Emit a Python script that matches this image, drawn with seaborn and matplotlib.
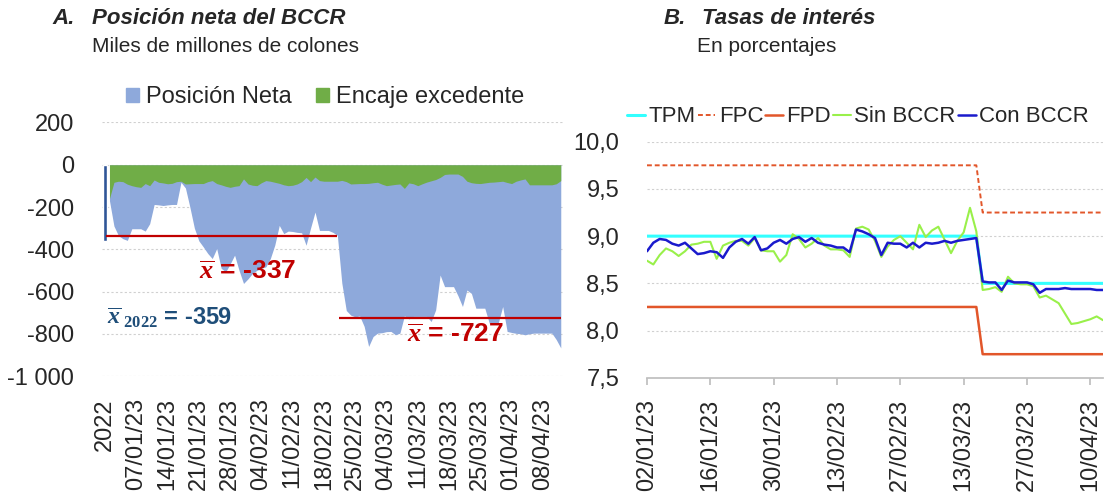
import numpy as np
import pandas as pd
import matplotlib
matplotlib.use("Agg")
import matplotlib.pyplot as plt
import seaborn as sns
from matplotlib.patches import Patch

# =====================================================
# Data - panel A (miles de millones de colones)
# =====================================================

promedio_2022 = -359
fechas_a = pd.date_range("2023-01-01", "2023-04-12", freq="D")

posicion_neta = [
    -170, -290, -335, -350, -358, -303, -303, -303, -314, -279,
    -188, -190, -193, -190, -188, -188, -83, -110, -201, -300,
    -360, -389, -420, -444, -397, -490, -507, -470, -428, -500,
    -562, -540, -514, -500, -490, -483, -444, -380, -287, -326,
    -314, -316, -320, -322, -381, -300, -224, -311, -311, -311,
    -320, -334, -560, -690, -712, -720, -716, -765, -860, -813,
    -797, -795, -790, -789, -805, -797, -715, -730, -718, -718,
    -718, -718, -742, -687, -522, -577, -577, -577, -620, -671,
    -593, -609, -679, -679, -679, -750, -750, -750, -671, -789,
    -794, -798, -800, -805, -800, -797, -797, -797, -797, -797,
    -828, -867,
]

encaje_excedente = [
    -160, -83, -78, -80, -92, -99, -104, -107, -89, -99,
    -72, -83, -86, -90, -88, -80, -78, -91, -90, -89,
    -89, -89, -80, -75, -89, -95, -102, -107, -102, -99,
    -67, -91, -97, -99, -85, -75, -78, -83, -88, -95,
    -99, -97, -91, -80, -60, -80, -58, -75, -78, -78,
    -78, -78, -74, -80, -91, -90, -89, -89, -88, -85,
    -83, -92, -99, -96, -93, -91, -112, -86, -90, -99,
    -90, -82, -76, -70, -60, -46, -44, -44, -44, -55,
    -78, -85, -88, -89, -86, -83, -82, -80, -78, -84,
    -89, -78, -72, -67, -95, -95, -95, -95, -95, -95,
    -90, -75,
]

# average levels and the periods they cover
promedios = [-337, -727]
periodos = [("2023-01-01", "2023-02-21"), ("2023-02-22", "2023-04-12")]

# =====================================================
# Data - panel B (porcentajes)
# =====================================================

fechas_b = pd.bdate_range("2023-01-02", "2023-04-12")
fecha_cambio = "2023-03-16"

tpm_niveles = [9.0, 8.5]
fpc_niveles = [9.75, 9.25]
fpd_niveles = [8.25, 7.75]

sin_bccr = [
    8.74, 8.70, 8.80, 8.87, 8.84, 8.79, 8.84, 8.91, 8.92, 8.94,
    8.94, 8.76, 8.90, 8.93, 8.95, 8.95, 8.90, 8.98, 8.85, 8.84,
    8.84, 8.73, 8.80, 9.02, 8.97, 8.88, 8.92, 8.98, 8.90, 8.86,
    8.86, 8.85, 8.78, 9.08, 9.10, 9.07, 8.95, 8.78, 8.89, 8.96,
    9.00, 8.93, 8.86, 9.12, 8.99, 9.06, 9.10, 8.96, 8.82, 8.95,
    9.04, 9.30, 9.05, 8.43, 8.44, 8.46, 8.41, 8.57, 8.50, 8.49,
    8.49, 8.47, 8.35, 8.37, 8.33, 8.29, 8.18, 8.07, 8.08, 8.10,
    8.12, 8.15, 8.11,
]

con_bccr = [
    8.84, 8.93, 8.97, 8.96, 8.92, 8.90, 8.93, 8.87, 8.81, 8.82,
    8.84, 8.83, 8.77, 8.88, 8.94, 8.97, 8.92, 8.99, 8.85, 8.87,
    8.93, 8.96, 8.92, 8.97, 8.99, 8.94, 8.98, 8.93, 8.91, 8.90,
    8.88, 8.88, 8.83, 9.07, 9.05, 9.02, 8.98, 8.80, 8.93, 8.92,
    8.92, 8.88, 8.93, 8.88, 8.93, 8.92, 8.93, 8.95, 8.93, 8.95,
    8.96, 8.97, 8.98, 8.52, 8.51, 8.51, 8.43, 8.53, 8.51, 8.51,
    8.51, 8.49, 8.40, 8.44, 8.44, 8.44, 8.45, 8.44, 8.44, 8.44,
    8.44, 8.43, 8.43,
]

# =====================================================
# Style
# =====================================================

sns.set_theme(style="white")
plt.rcParams["font.family"] = ["Liberation Sans", "DejaVu Sans"]
plt.rcParams["mathtext.fontset"] = "custom"
plt.rcParams["mathtext.rm"] = "Liberation Serif:bold"
plt.rcParams["mathtext.it"] = "Liberation Serif:italic:bold"

AZUL_AREA = "#8EA9DB"
VERDE_AREA = "#70AD47"
AZUL_2022 = "#2F5597"
ROJO = "#C00000"
AZUL_TXT = "#1F4E79"
GRID = "#D0D0D0"

fig = plt.figure(figsize=(11.05, 4.94), dpi=100)

W, H = 1105, 494


def fx(px):
    return px / W


def fy(py):
    return 1 - py / H


# =====================================================
# Panel A
# =====================================================

ax1 = fig.add_axes([fx(101.7), fy(376), fx(563 - 101.7), (376 - 122.5) / H])

df_a = pd.DataFrame({
    "pos": np.arange(1, len(fechas_a) + 1),
    "fecha": fechas_a,
    "neta": posicion_neta,
    "encaje": encaje_excedente,
})

ax1.fill_between(df_a["pos"], 0, df_a["neta"], color=AZUL_AREA, linewidth=0)
ax1.fill_between(df_a["pos"], 0, df_a["encaje"], color=VERDE_AREA, linewidth=0)
ax1.bar([0], [promedio_2022], width=0.7, color=AZUL_2022)

for nivel, (ini, fin) in zip(promedios, periodos):
    p0 = df_a.loc[df_a["fecha"] == ini, "pos"].iloc[0]
    p1 = df_a.loc[df_a["fecha"] == fin, "pos"].iloc[0]
    ax1.hlines(nivel, p0 - 0.7, p1, color=ROJO, linewidth=1.6, zorder=5)

ax1.set_xlim(-0.74, 102.5)
ax1.set_ylim(-1000, 200)
yt = np.arange(-1000, 201, 200)
ax1.set_yticks(yt)
ax1.set_yticklabels([f"{v:,}".replace(",", " ") for v in yt], fontsize=17)
ax1.yaxis.grid(True, linestyle=(0, (2, 2)), color=GRID, linewidth=0.8)
ax1.set_axisbelow(True)

xt = [0] + list(range(7, len(fechas_a) + 1, 7))
xl = ["2022"] + [fechas_a[i - 1].strftime("%d/%m/%y") for i in xt[1:]]
ax1.set_xticks(xt)
ax1.set_xticklabels(xl, rotation=90, fontsize=17)
ax1.tick_params(axis="both", length=0)
ax1.tick_params(axis="y", pad=20)
ax1.tick_params(axis="x", pad=16)
for s in ax1.spines.values():
    s.set_visible(False)

ax1.text(32, -508, r"$\overline{x}$ = -337", color=ROJO, fontsize=19,
         fontweight="bold", ha="center", va="center")
ax1.text(78.3, -805, r"$\overline{x}$ = -727", color=ROJO, fontsize=19,
         fontweight="bold", ha="center", va="center")
ax1.text(14.5, -725, r"$\overline{x}_{\ 2022}$ = -359", color=AZUL_TXT,
         fontsize=17, fontweight="bold", ha="center", va="center")

ax1.legend(
    handles=[Patch(color=AZUL_AREA, label="Posición Neta"),
             Patch(color=VERDE_AREA, label="Encaje excedente")],
    loc="center", bbox_to_anchor=(fx(325), fy(97)),
    bbox_transform=fig.transFigure, ncol=2, frameon=False, fontsize=17,
    handlelength=0.55, handleheight=0.55, handletextpad=0.3,
    columnspacing=1.0, borderpad=0,
)

fig.text(fx(52), fy(18), "A.", fontsize=16, fontweight="bold",
         fontstyle="italic", va="center")
fig.text(fx(92), fy(18), "Posición neta del BCCR", fontsize=16,
         fontweight="bold", fontstyle="italic", va="center")
fig.text(fx(92), fy(46), "Miles de millones de colones", fontsize=15,
         va="center")

# =====================================================
# Panel B
# =====================================================

ax2 = fig.add_axes([fx(647), fy(377.8), fx(1103 - 647), (377.8 - 141.7) / H])

antes = fechas_b < pd.Timestamp(fecha_cambio)
df_b = pd.DataFrame({
    "pos": np.arange(len(fechas_b)),
    "TPM": np.where(antes, tpm_niveles[0], tpm_niveles[1]),
    "FPC": np.where(antes, fpc_niveles[0], fpc_niveles[1]),
    "FPD": np.where(antes, fpd_niveles[0], fpd_niveles[1]),
    "Sin BCCR": sin_bccr,
    "Con BCCR": con_bccr,
})

series = [
    ("TPM", "#33FFFF", "-", 2.2),
    ("FPC", "#E2562A", (0, (2.5, 1.5)), 1.4),
    ("FPD", "#E2562A", "-", 1.8),
    ("Sin BCCR", "#99F04A", "-", 1.5),
    ("Con BCCR", "#1A1ACC", "-", 1.8),
]

for nombre, color, estilo, lw in series:
    sns.lineplot(data=df_b, x="pos", y=nombre, ax=ax2, color=color,
                 linewidth=lw, linestyle=estilo, label=nombre)

ax2.set_xlim(0, len(fechas_b) - 1)
ax2.set_ylim(7.5, 10.0)
yt2 = np.arange(7.5, 10.01, 0.5)
ax2.set_yticks(yt2)
ax2.set_yticklabels([f"{v:.1f}".replace(".", ",") for v in yt2], fontsize=17)
ax2.yaxis.grid(True, linestyle=(0, (2, 2)), color=GRID, linewidth=0.8)
ax2.set_axisbelow(True)

xt2 = list(range(0, len(fechas_b), 10))
ax2.set_xticks(xt2)
ax2.set_xticklabels([fechas_b[i].strftime("%d/%m/%y") for i in xt2],
                    rotation=90, fontsize=17)
ax2.set_xlabel("")
ax2.set_ylabel("")
ax2.tick_params(axis="x", length=5, color="#BFBFBF", direction="out",
                bottom=True, pad=10)
ax2.tick_params(axis="y", length=0, pad=20)
for s in ["top", "right", "left"]:
    ax2.spines[s].set_visible(False)
ax2.spines["bottom"].set_color("#BFBFBF")

ax2.legend(loc="center", bbox_to_anchor=(fx(858), fy(117)),
           bbox_transform=fig.transFigure, ncol=5, frameon=False,
           fontsize=16, handlelength=0.8, handletextpad=0.15,
           columnspacing=0.1, borderpad=0)

fig.text(fx(664), fy(18), "B.", fontsize=16, fontweight="bold",
         fontstyle="italic", va="center")
fig.text(fx(702), fy(18), "Tasas de interés", fontsize=16,
         fontweight="bold", fontstyle="italic", va="center")
fig.text(fx(697), fy(46), "En porcentajes", fontsize=15, va="center")

fig.savefig("out.png", dpi=100)
